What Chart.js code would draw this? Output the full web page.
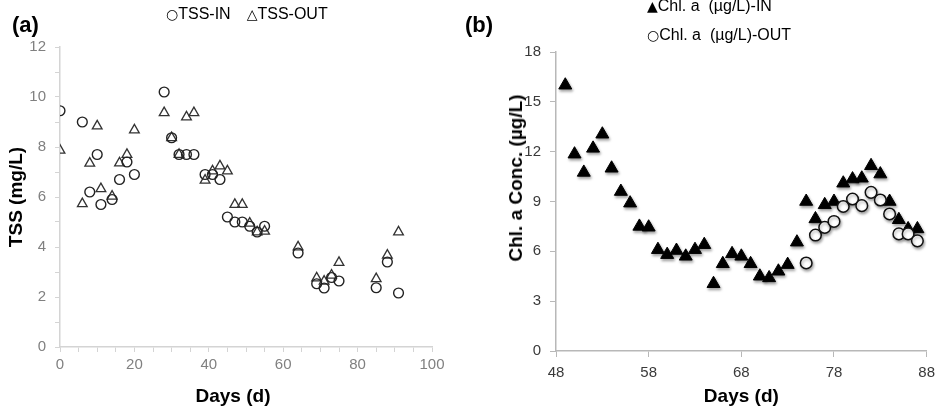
<!DOCTYPE html>
<html>
<head>
<meta charset="utf-8">
<script src="https://cdn.jsdelivr.net/npm/chart.js@4.4.1/dist/chart.umd.min.js"></script>
<style>
  body { margin: 0; background: #fff; font-family: 'Liberation Sans', Arial, sans-serif; }
  #wrap { position: relative; width: 935px; height: 410px; overflow: hidden; }
  canvas { position: absolute; top: 0; }
  .panel { position: absolute; font-weight: bold; font-size: 22px; color: #000; }
  .leg { position: absolute; font-size: 16px; color: #000; white-space: pre; line-height: 18px; }
  .mk { font-family: 'DejaVu Sans', sans-serif; font-size: 14px; }
  .mkb { font-family: 'DejaVu Sans', sans-serif; font-size: 14px; }
  .atitle { position: absolute; font-weight: bold; font-size: 19px; color: #000; white-space: nowrap; }
</style>
</head>
<body>
<div id="wrap">
  <canvas id="tssChart" width="460" height="410" style="left:0"></canvas>
  <canvas id="chlChart" width="482" height="410" style="left:460px"></canvas>
  <div class="panel" style="left:12px; top:12px">(a)</div>
  <div class="panel" style="left:465px; top:12px">(b)</div>
  <div class="leg" style="left:166px; top:5px"><span class="mk">○</span>TSS-IN<span class="mk" style="margin-left:16px">△</span>TSS-OUT</div>
  <div class="leg" style="left:647px; top:-3px"><span class="mkb">▲</span>Chl. a  (µg/L)-IN</div>
  <div class="leg" style="left:647px; top:26px"><span class="mkb">○</span>Chl. a  (µg/L)-OUT</div>
  <div class="atitle" style="left:0; width:466px; top:385px; text-align:center">Days (d)</div>
  <div class="atitle" style="left:516px; top:178px; transform: translate(-50%, -50%) rotate(-90deg)">Chl. a Conc. (µg/L)</div>
</div>
<script>
// (a) TSS
const tssDays = [0, 6, 8, 10, 11, 14, 16, 18, 20, 28, 30, 32, 34, 36, 39, 41, 43, 45, 47, 49, 51, 53, 55, 64, 69, 71, 73, 75, 85, 88, 91];
const tssIn = [9.45, 9.0, 6.2, 7.7, 5.7, 5.9, 6.7, 7.4, 6.9, 10.2, 8.37, 7.7, 7.7, 7.7, 6.9, 6.9, 6.7, 5.2, 5.0, 5.0, 4.83, 4.6, 4.83, 3.76, 2.53, 2.36, 2.78, 2.64, 2.37, 3.4, 2.16];
const tssOut = [7.87, 5.73, 7.35, 8.84, 6.33, 6.03, 7.36, 7.7, 8.68, 9.37, 8.37, 7.7, 9.2, 9.37, 6.67, 7.04, 7.24, 7.04, 5.7, 5.7, 4.95, 4.6, 4.63, 4.0, 2.76, 2.63, 2.87, 3.38, 2.73, 3.67, 4.6];

// (b) Chl. a
const chlInDays = [49, 50, 51, 52, 53, 54, 55, 56, 57, 58, 59, 60, 61, 62, 63, 64, 65, 66, 67, 68, 69, 70, 71, 72, 73, 74, 75, 76, 77, 78, 79, 80, 81, 82, 83, 84, 85, 86, 87];
const chlIn = [16.0, 11.85, 10.75, 12.2, 13.05, 11.0, 9.6, 8.9, 7.5, 7.45, 6.1, 5.8, 6.05, 5.7, 6.1, 6.4, 4.05, 5.25, 5.85, 5.7, 5.25, 4.5, 4.4, 4.8, 5.2, 6.55, 9.0, 7.95, 8.8, 9.0, 10.1, 10.35, 10.4, 11.15, 10.65, 9.0, 7.9, 7.35, 7.35];
const chlOutDays = [75, 76, 77, 78, 79, 80, 81, 82, 83, 84, 85, 86, 87];
const chlOut = [5.3, 6.98, 7.44, 7.8, 8.7, 9.15, 8.75, 9.55, 9.09, 8.25, 7.05, 7.05, 6.63];
const chlDayTicks = [48, 58, 68, 78, 88];

Chart.defaults.font.family = '\'Liberation Sans\', Arial, sans-serif';
Chart.defaults.animation = false;

const toPoints = (xs, ys) => xs.map((x, i) => ({ x: x, y: ys[i] }));

const titleFont = { size: 19, weight: 'bold' };

// A
const axisA = '#d4d4d4';
new Chart(document.getElementById('tssChart').getContext('2d'), {
  type: 'scatter',
  data: {
    datasets: [{
      label: 'TSS-IN',
      data: toPoints(tssDays, tssIn),
      pointStyle: 'circle',
      pointRadius: 4.9,
      backgroundColor: 'rgba(255,255,255,0)',
      borderColor: '#222',
      borderWidth: 1.4,
    }, {
      label: 'TSS-OUT',
      data: toPoints(tssDays, tssOut),
      pointStyle: 'triangle',
      pointRadius: 5.6,
      backgroundColor: 'rgba(255,255,255,0)',
      borderColor: '#333',
      borderWidth: 1.3,
    }],
  },
  options: {
    responsive: false,
    devicePixelRatio: 1,
    layout: { padding: { left: 0, right: 28, top: 47, bottom: 0 } },
    plugins: { legend: { display: false }, tooltip: { enabled: false } },
    scales: {
      x: {
        type: 'linear', min: 0, max: 100,
        afterFit: s => { s.height = 63; },
        grid: { drawOnChartArea: false, tickLength: 5, color: axisA },
        border: { color: axisA, width: 1.5 },
        ticks: { stepSize: 5, autoSkip: false, maxRotation: 0, padding: 4, color: '#808080', font: { size: 15 },
          callback: v => v % 20 === 0 ? v : '' },
      },
      y: {
        min: 0, max: 12,
        afterFit: s => { s.width = 60; },
        grid: { drawOnChartArea: false, tickLength: 5, color: axisA },
        border: { color: axisA, width: 1.5 },
        ticks: { stepSize: 1, autoSkip: false, padding: 9, color: '#808080', font: { size: 15 },
          callback: v => v % 2 === 0 ? v : '' },
        title: { display: true, text: 'TSS (mg/L)', color: '#000', font: titleFont, padding: { top: 5, bottom: 0 } },
      },
    },
  },
});

// B
const axisB = '#b8b8b8';
const shadowPlugin = {
  id: 'markerShadow',
  beforeDatasetDraw(chart) {
    const ctx = chart.ctx;
    ctx.save();
    ctx.shadowColor = 'rgba(0,0,0,0.35)';
    ctx.shadowBlur = 3;
    ctx.shadowOffsetX = 1;
    ctx.shadowOffsetY = 2;
  },
  afterDatasetDraw(chart) {
    chart.ctx.restore();
  },
};

new Chart(document.getElementById('chlChart').getContext('2d'), {
  type: 'scatter',
  data: {
    datasets: [{
      label: 'Chl. a  (µg/L)-OUT',
      data: toPoints(chlOutDays, chlOut),
      pointStyle: 'circle',
      pointRadius: 5.8,
      backgroundColor: '#fff',
      borderColor: '#111',
      borderWidth: 1.5,
    }, {
      label: 'Chl. a  (µg/L)-IN',
      data: toPoints(chlInDays, chlIn),
      pointStyle: 'triangle',
      pointRadius: 7.5,
      backgroundColor: '#000',
      borderColor: '#000',
      borderWidth: 1,
    }],
  },
  plugins: [shadowPlugin],
  options: {
    responsive: false,
    devicePixelRatio: 1,
    layout: { padding: { left: 0, right: 0, top: 52, bottom: 0 } },
    plugins: { legend: { display: false }, tooltip: { enabled: false } },
    scales: {
      x: {
        type: 'linear', min: 48, max: 88,
        afterFit: s => { s.height = 59; },
        afterBuildTicks: s => { s.ticks = chlDayTicks.map(v => ({ value: v })); },
        grid: { drawOnChartArea: false, tickLength: 6, color: axisB },
        border: { color: axisB, width: 1.5 },
        ticks: { autoSkip: false, maxRotation: 0, padding: 7, color: '#3a3a3a', font: { size: 15 } },
        title: { display: true, text: 'Days (d)', color: '#000', font: titleFont, padding: { top: 0, bottom: 2 } },
      },
      y: {
        min: 0, max: 18,
        afterFit: s => { s.width = 96; },
        grid: { drawOnChartArea: false, tickLength: 6, color: axisB },
        border: { color: axisB, width: 1.5 },
        ticks: { stepSize: 3, autoSkip: false, padding: 9, color: '#3a3a3a', font: { size: 15 } },
      },
    },
  },
});
</script>
</body>
</html>
